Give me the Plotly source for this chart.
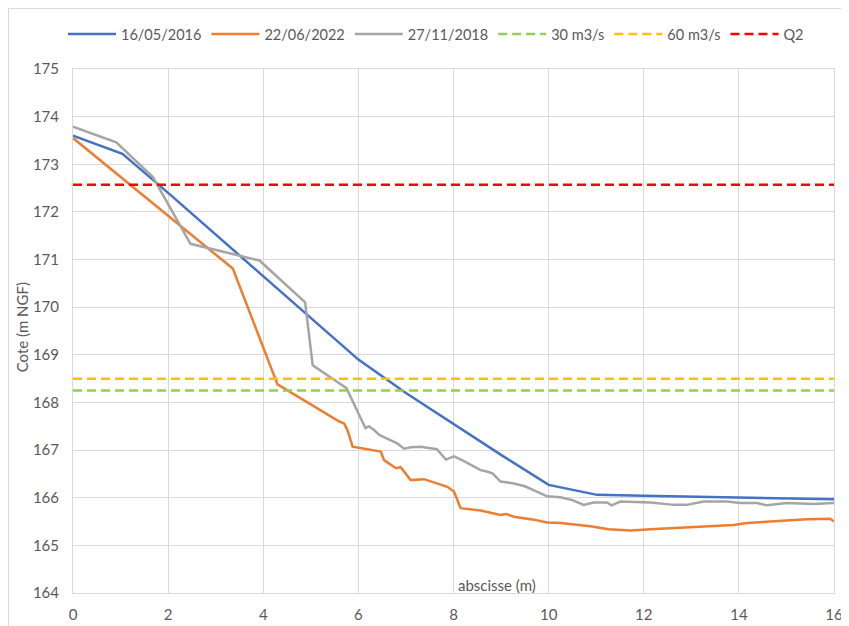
import plotly.graph_objects as go

# ---- data ----
x_2016 = [0, 1.04, 2, 3, 4, 5, 6, 7, 8, 9, 10, 10.5, 11.02, 12, 13, 14, 15, 16]
y_2016 = [173.6, 173.22, 172.4, 171.52, 170.64, 169.76, 168.9, 168.2, 167.55, 166.9, 166.27,
          166.16, 166.06, 166.04, 166.02, 166.0, 165.99, 165.97]

x_2022 = [0, 3.36, 4.3, 5.21, 5.6, 5.7, 5.77, 5.88, 6.47, 6.54, 6.65, 6.79, 6.89, 7.1, 7.38,
          7.66, 7.87, 8.01, 8.15, 8.57, 8.99, 9.1, 9.27, 9.69, 9.97, 10.25, 10.88, 11.26,
          11.72, 12.14, 12.98, 13.33, 13.89, 14.17, 14.73, 15.43, 15.92, 16]
y_2022 = [173.55, 170.81, 168.38, 167.84, 167.6, 167.56, 167.42, 167.07, 166.97, 166.79,
          166.72, 166.62, 166.64, 166.37, 166.39, 166.3, 166.23, 166.13, 165.78, 165.73,
          165.64, 165.66, 165.6, 165.54, 165.48, 165.47, 165.4, 165.34, 165.31, 165.34,
          165.38, 165.41, 165.43, 165.47, 165.5, 165.55, 165.56, 165.5]

x_2018 = [0, 0.91, 1.68, 2.47, 3.92, 4.88, 5.04, 5.75, 6.15, 6.22, 6.33, 6.44, 6.58, 6.82,
          6.96, 7.1, 7.31, 7.5, 7.65, 7.84, 8.01, 8.2, 8.36, 8.57, 8.7, 8.82, 8.99, 9.27,
          9.5, 9.69, 9.97, 10.25, 10.5, 10.74, 10.95, 11.23, 11.32, 11.51, 12.14, 12.63,
          12.91, 13.26, 13.75, 14.03, 14.38, 14.59, 15.01, 15.57, 16]
y_2018 = [173.79, 173.46, 172.73, 171.33, 170.98, 170.1, 168.78, 168.3, 167.46, 167.5,
          167.42, 167.32, 167.25, 167.14, 167.03, 167.06, 167.07, 167.05, 167.02, 166.8,
          166.87, 166.78, 166.69, 166.58, 166.55, 166.51, 166.34, 166.3, 166.24, 166.16,
          166.03, 166.01, 165.95, 165.85, 165.9, 165.9, 165.84, 165.92, 165.9, 165.85,
          165.85, 165.92, 165.92, 165.89, 165.89, 165.84, 165.89, 165.87, 165.89]

x_ref = [0, 16]
q30 = [168.25, 168.25]
q60 = [168.5, 168.5]
q2 = [172.57, 172.57]

x_ticks = [0, 2, 4, 6, 8, 10, 12, 14, 16]
y_ticks = [164, 165, 166, 167, 168, 169, 170, 171, 172, 173, 174, 175]

FONT = "Lato, sans-serif"
TXT = "#595959"

fig = go.Figure()
fig.add_trace(go.Scatter(x=x_2016, y=y_2016, mode="lines", name="16/05/2016",
                         line=dict(color="#4472C4", width=2.5)))
fig.add_trace(go.Scatter(x=x_2022, y=y_2022, mode="lines", name="22/06/2022",
                         line=dict(color="#ED7D31", width=2.5)))
fig.add_trace(go.Scatter(x=x_2018, y=y_2018, mode="lines", name="27/11/2018",
                         line=dict(color="#A5A5A5", width=2.5)))
fig.add_trace(go.Scatter(x=x_ref, y=q30, mode="lines", name="30 m3/s",
                         line=dict(color="#92D050", width=2.5, dash="9px,5px")))
fig.add_trace(go.Scatter(x=x_ref, y=q60, mode="lines", name="60 m3/s",
                         line=dict(color="#FFC000", width=2.5, dash="9px,5px")))
fig.add_trace(go.Scatter(x=x_ref, y=q2, mode="lines", name="Q2",
                         line=dict(color="#FF0000", width=2.5, dash="9px,5px")))

PW, PH = 761, 524  # plot area size in px
fig.update_layout(
    width=841, height=618,
    margin=dict(l=65, r=15, t=61, b=33, autoexpand=False),
    paper_bgcolor="white", plot_bgcolor="white",
    font=dict(family=FONT, size=15, color=TXT),
    showlegend=True,
    legend=dict(orientation="h", x=-10 / PW, xanchor="left", y=1 + 35 / PH,
                yanchor="middle",
                font=dict(family=FONT, size=14.5, color=TXT),
                itemwidth=48, tracegroupgap=0, bgcolor="rgba(0,0,0,0)"),
    xaxis=dict(range=[0, 16], tickvals=x_ticks, showgrid=True, gridcolor="#D9D9D9",
               gridwidth=1, zeroline=False, showline=True, linecolor="#D9D9D9",
               mirror=True, ticks="", ticklabelstandoff=8, automargin=False,
               tickfont=dict(family=FONT, size=15, color=TXT)),
    yaxis=dict(range=[164, 175], tickvals=y_ticks, showgrid=True, gridcolor="#D9D9D9",
               gridwidth=1, zeroline=False, showline=True, linecolor="#D9D9D9",
               mirror=True, ticks="", ticklabelstandoff=10, automargin=False,
               tickfont=dict(family=FONT, size=15, color=TXT)),
    annotations=[
        dict(text="Cote (m NGF)", xref="paper", yref="paper", x=-51 / PW, y=0.507,
             xanchor="center", yanchor="middle", textangle=-90, showarrow=False,
             font=dict(family=FONT, size=15, color=TXT)),
        dict(text="abscisse (m)", xref="paper", yref="paper", x=424 / PW, y=8.5 / PH,
             xanchor="center", yanchor="middle", showarrow=False,
             font=dict(family=FONT, size=15, color=TXT)),
    ],
    shapes=[
        dict(type="rect", xref="paper", yref="paper",
             x0=-64.5 / PW, x1=1 + 40 / PW, y0=-60 / PH, y1=1 + 60.5 / PH,
             line=dict(color="#D9D9D9", width=1), fillcolor="rgba(0,0,0,0)", layer="below"),
    ],
)

fig.write_html("out.html")
